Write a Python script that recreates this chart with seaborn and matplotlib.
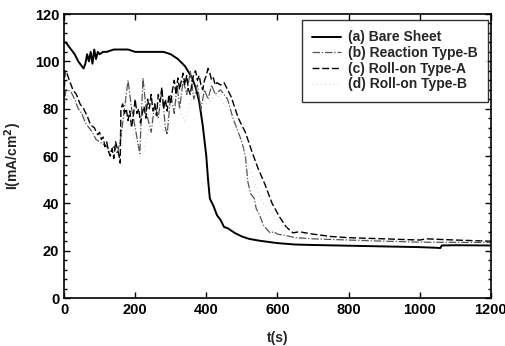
import matplotlib
matplotlib.use("Agg")
import matplotlib.pyplot as plt
import seaborn as sns
import pandas as pd
from matplotlib.ticker import MultipleLocator

sns.set_theme(style="white")
plt.rcParams['font.family'] = ['Liberation Sans', 'DejaVu Sans']
plt.rcParams['font.weight'] = 'bold'

# (a) Bare Sheet
t_a = [0, 5, 10, 20, 30, 40, 50, 55, 60, 65, 70, 75, 80, 85, 90, 95, 100, 110, 120, 140,
       160, 180, 200, 220, 240, 260, 280, 300, 320, 340, 360, 370, 380, 390, 400, 405, 410,
       420, 430, 440, 450, 460, 480, 500, 520, 550, 600, 650, 700, 800, 900, 1000, 1050,
       1058, 1062, 1100, 1200]
i_a = [108, 108, 107, 105, 103, 100, 98, 97, 99, 103, 100, 104, 99, 105, 101, 104, 103, 104,
       104, 105, 105, 105, 104, 104, 104, 104, 104, 103, 101, 98, 93, 89, 83, 73, 60, 50, 42,
       39, 35, 33, 30, 29.5, 27.5, 26, 25, 24.2, 23.2, 22.6, 22.4, 22.1, 21.8, 21.5, 21.2,
       21.1, 22.2, 22.3, 22.2]

# (b) Reaction Type-B
t_b = [0, 5, 10, 20, 30, 40, 50, 60, 70, 80, 90, 100, 110, 120, 130, 140, 150, 160, 170,
       180, 190, 200, 213, 222, 232, 245, 255, 265, 275, 285, 290, 300, 310, 318, 325, 335,
       345, 355, 365, 375, 385, 395, 405, 415, 425, 440, 460, 475, 490, 500, 510, 517, 525,
       535, 540, 550, 560, 570, 580, 590, 600, 620, 650, 700, 800, 900, 1000, 1100, 1200]
i_b = [80, 88, 88, 87, 84, 80, 78, 74, 72, 70, 67, 66, 65, 64, 62, 64, 61, 68, 80, 92, 80,
       72, 61, 93, 78, 70, 82, 76, 88, 72, 69, 86, 78, 90, 80, 92, 86, 96, 84, 90, 80, 88,
       84, 90, 86, 88, 84, 76, 70, 66, 60, 49, 44, 42, 38, 35, 31, 29, 27.5, 28, 27, 26.5,
       25.5, 25, 24.5, 24, 23.6, 23.5, 23.5]

# (c) Roll-on Type-A
t_c = [0, 3, 8, 15, 25, 35, 45, 55, 65, 75, 85, 95, 100, 105, 110, 115, 120, 125, 130, 135,
       140, 145, 150, 155, 158, 160, 165, 170, 175, 180, 185, 190, 195, 200, 205, 210, 215,
       220, 225, 230, 235, 240, 245, 250, 255, 260, 265, 270, 275, 280, 285, 290, 295, 300,
       305, 310, 315, 320, 325, 330, 335, 340, 345, 350, 355, 360, 365, 370, 375, 380, 385,
       390, 395, 400, 405, 410, 415, 420, 425, 430, 440, 450, 470, 490, 510, 528, 545, 565,
       585, 607, 625, 644, 660, 700, 750, 800, 900, 1000, 1020, 1100, 1200]
i_c = [85, 96, 95, 92, 88, 86, 82, 80, 77, 73, 72, 69, 70, 67, 68, 64, 66, 62, 60, 63, 59,
       66, 63, 60, 57, 80, 82, 78, 80, 75, 79, 72, 77, 84, 78, 80, 74, 78, 81, 76, 84, 80,
       86, 79, 82, 77, 86, 83, 89, 80, 84, 79, 86, 82, 88, 92, 86, 93, 88, 92, 95, 90, 94,
       88, 86, 91, 95, 96, 92, 94, 90, 88, 92, 94, 97, 95, 92, 93, 90, 91, 90, 91, 85, 76,
       70, 62, 55, 48, 40, 34, 30, 27.5, 28, 27, 26, 25.5, 25, 24.5, 25, 24.5, 24]

# (d) Roll-on Type-B
t_d = [0, 10, 30, 60, 90, 120, 150, 175, 200, 225, 250, 280, 310, 340, 370, 400, 430,
       460, 490, 520, 560, 620, 700, 800, 1000, 1200]
i_d = [82, 86, 82, 76, 70, 66, 63, 84, 66, 62, 80, 70, 86, 74, 90, 82, 86, 80, 70, 55,
       40, 30, 26, 25, 24, 24]

series = [
    ("(a) Bare Sheet", t_a, i_a, dict(color="black", lw=1.4, linestyle="-")),
    ("(b) Reaction Type-B", t_b, i_b, dict(color="#555555", lw=0.9, linestyle=(0, (6, 1.5, 1, 1.5)))),
    ("(c) Roll-on Type-A", t_c, i_c, dict(color="black", lw=1.0, linestyle=(0, (5, 2)))),
    ("(d) Roll-on Type-B", t_d, i_d, dict(color="#bbbbbb", lw=0.6, linestyle=(0, (1, 4)))),
]

fig = plt.figure(figsize=(5.06, 3.46), dpi=100)
ax = fig.add_axes([0.1265, 0.1387, 0.8435, 0.8208])

for name, t, v, st in series:
    df = pd.DataFrame({"t": t, "I": v})
    sns.lineplot(data=df, x="t", y="I", ax=ax, label=name, estimator=None, sort=False, **st)

ax.set_xlim(0, 1200)
ax.set_ylim(0, 120)
ax.xaxis.set_major_locator(MultipleLocator(200))
ax.yaxis.set_major_locator(MultipleLocator(20))
ax.yaxis.set_minor_locator(MultipleLocator(4))
ax.tick_params(which="both", direction="in", top=True, right=True, bottom=True, left=True,
               labelsize=10.5, colors="black", width=1)
ax.tick_params(which="major", length=4)
ax.tick_params(which="minor", length=2)
for lab in ax.get_xticklabels() + ax.get_yticklabels():
    lab.set_fontweight("bold")
for s in ax.spines.values():
    s.set_color("black")
    s.set_linewidth(1.2)
ax.set_xlabel("t(s)", fontsize=10, fontweight="bold", labelpad=10)
ax.set_ylabel("I(mA/cm$^2$)", fontsize=10, fontweight="bold", labelpad=8)

leg = ax.legend(loc="upper right", bbox_to_anchor=(1 - 3 / 427, 1 - 6 / 284),
                fontsize=10, frameon=True, fancybox=False,
                borderaxespad=0.0, handlelength=2.1, labelspacing=0.12, borderpad=0.75,
                handletextpad=0.45)
leg.get_frame().set_edgecolor("black")
leg.get_frame().set_linewidth(1.0)
for txt in leg.get_texts():
    txt.set_fontweight("bold")

fig.savefig("out.png", dpi=100)
